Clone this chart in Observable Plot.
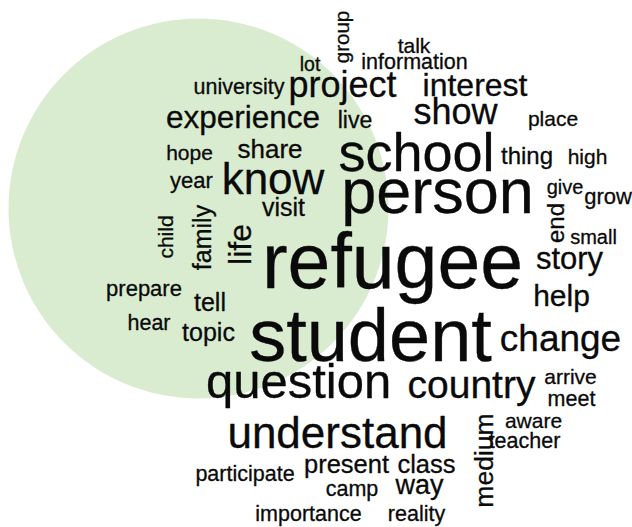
<!DOCTYPE html>
<html>
<head>
<meta charset="utf-8">
<script src="https://cdn.jsdelivr.net/npm/d3@7"></script>
<script src="https://cdn.jsdelivr.net/npm/@observablehq/plot@0.6"></script>
<style>
  html, body { margin: 0; padding: 0; background: #ffffff; }
  #chart svg { display: block; }
</style>
</head>
<body>
<div id="chart"></div>
<script>
// Word cloud data: word, horizontal position, baseline position, size (frequency weight), rotation
const words = ["refugee","person","school","student","question","country","understand","change","story","help",
  "arrive","meet","aware","teacher","lot","university","project","experience","live","hope",
  "share","year","know","visit","thing","high","place","show","interest","information",
  "talk","give","grow","small","prepare","tell","hear","topic","participate","importance",
  "present","class","camp","way","reality",
  "group","end","medium","child","family","life"];
const posX = [392,437,416,370,298,471,337,560,569,561,
  570,571,533,524,309.5,238.5,342,242.5,354.5,189,
  269.5,191,272.5,283,526.5,587,552.5,455,474.5,414,
  413.5,564.5,607.5,593,143.5,209.5,148.5,208,244.5,308,
  346,426,351.5,419,416,
  348,563,492,172,210,250];
const posY = [287,212,170,360,397,397,447,350,268,305,
  383,405,427,447,70,93,96,127,127,159,
  157,187,193,215,163,163,125,123,95,68,
  52,193,203,243,295,310,329,340,480,520,
  472,472,495,493,520,
  36.5,222.5,460,236.5,237,244];
const freq = [77,63,54,74,49,39,44,37,31,30,
  21,21.5,21,21.5,19.5,21.5,36,31.5,23,21,
  26,22,44,25,24,21,21,36,32,21.5,
  21,20,22,20,22,25,21.5,25,21.5,21.5,
  25.5,25.5,21.5,27,21.5,
  20.5,24,26.5,21,25,32];
const rotation = [0,0,0,0,0,0,0,0,0,0,
  0,0,0,0,0,0,0,0,0,0,
  0,0,0,0,0,0,0,0,0,0,
  0,0,0,0,0,0,0,0,0,0,
  0,0,0,0,0,
  -90,-90,-90,-90,-90,-90];
// background circle
const circleX = [198];
const circleY = [208];

const table = words.map((w, i) => ({word: w, x: posX[i], y: posY[i], size: freq[i], rotate: rotation[i]}));
const bg = circleX.map((x, i) => ({x, y: circleY[i]}));

const chart = Plot.plot({
  width: 632,
  height: 527,
  margin: 0,
  x: {domain: [0, 632], range: [0, 632], axis: null},
  y: {domain: [0, 527], range: [0, 527], axis: null},
  style: {background: "#ffffff"},
  marks: [
    Plot.dot(bg, {x: "x", y: "y", r: 190, fill: "#d9ecd0", stroke: "none"}),
    Plot.text(table, {
      x: "x", y: "y", text: "word",
      fontSize: "size", rotate: "rotate",
      textAnchor: "middle", lineAnchor: "bottom",
      fontFamily: "'Liberation Sans', Arial, sans-serif",
      fill: "#0a0a0a", stroke: "#0a0a0a", strokeWidth: 0.3
    })
  ]
});
document.getElementById("chart").appendChild(chart);
</script>
</body>
</html>
